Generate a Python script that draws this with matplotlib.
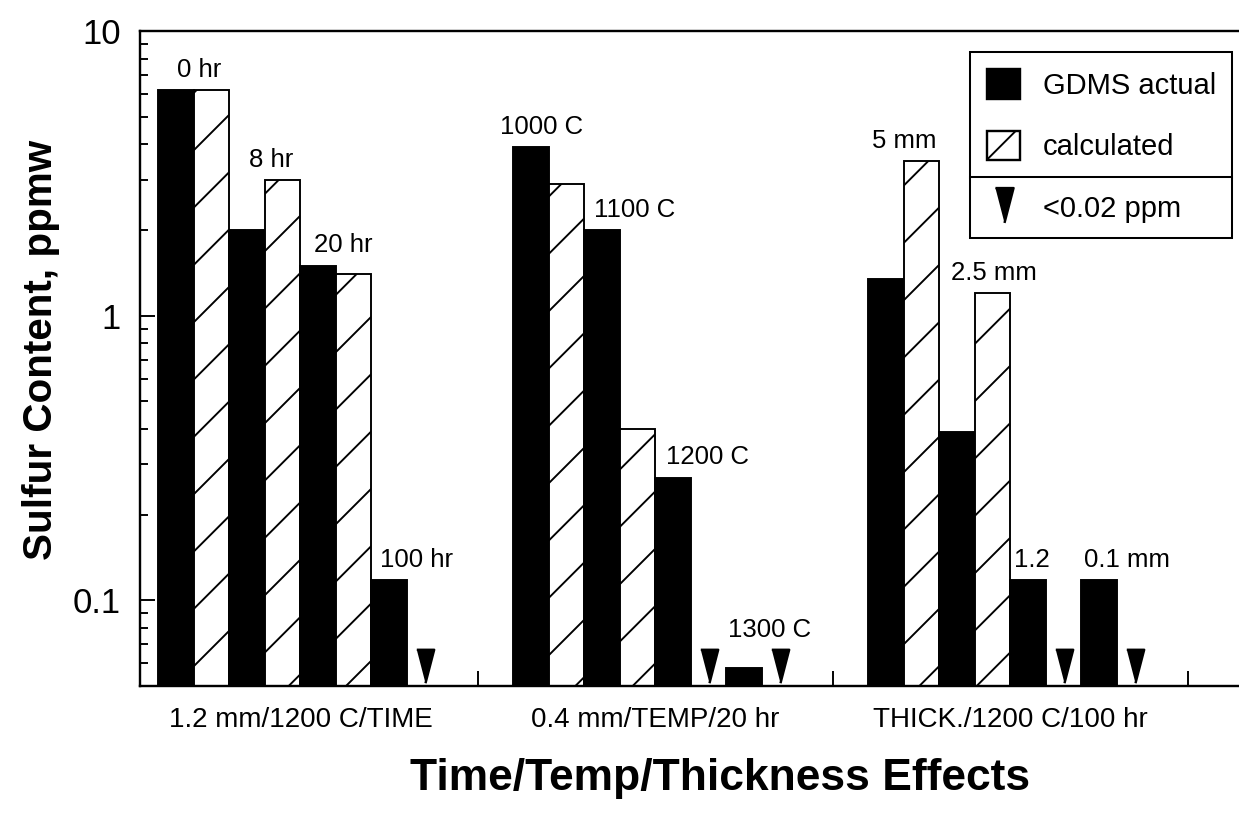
import numpy as np
import matplotlib
matplotlib.use("Agg")
import matplotlib.pyplot as plt
from matplotlib.patches import Patch
from matplotlib.lines import Line2D
from matplotlib.ticker import FixedLocator, FuncFormatter, LogLocator, NullFormatter

plt.rcParams['font.family'] = ['Liberation Sans', 'DejaVu Sans']
plt.rcParams['hatch.linewidth'] = 0.8

# sulfur content (ppmw), measured by GDMS vs. calculated
groups = ["1.2 mm/1200 C/TIME", "0.4 mm/TEMP/20 hr", "THICK./1200 C/100 hr"]
conditions = [["0 hr", "8 hr", "20 hr", "100 hr"],
              ["1000 C", "1100 C", "1200 C", "1300 C"],
              ["5 mm", "2.5 mm", "1.2", "0.1 mm"]]
gdms_actual = [[6.2, 2.0, 1.5, 0.118],
               [3.9, 2.0, 0.27, 0.058],
               [1.35, 0.39, 0.118, 0.118]]
# None -> below detection, shown as a triangle (<0.02 ppm)
calculated = [[6.2, 3.0, 1.4, None],
              [2.9, 0.40, None, None],
              [3.5, 1.2, None, None]]

DPI = 172
fig = plt.figure(figsize=(1239 / DPI, 827 / DPI), dpi=DPI)
ax = fig.add_axes([0.113, 0.1705, 0.887, 0.792])

ymin, ymax = 0.05, 10
base = 0.02
w = 0.1
tri = [(-0.26, 0.5), (0.26, 0.5), (0.0, -0.5)]
tri_y = 0.0588
tri_top = 0.067
tri_size = 14
label_dx = [[2, 2.5, 3, 4], [-3, 6, 7, 3], [0, 8, -6, 4]]

ax.set_yscale('log')

for g in range(len(groups)):
    for k in range(4):
        x_act = g + 0.15 + 2 * k * w
        x_calc = x_act + w
        act = gdms_actual[g][k]
        calc = calculated[g][k]
        ax.bar(x_act, act - base, bottom=base, width=w,
               facecolor='black', edgecolor='black', linewidth=0.8)
        if calc is None:
            ax.plot([x_calc], [tri_y], linestyle='none', marker=tri,
                    markersize=tri_size, color='black')
            top = max(act, tri_top)
        else:
            ax.bar(x_calc, calc - base, bottom=base, width=w,
                   facecolor='white', edgecolor='black', linewidth=0.8,
                   hatch='/')
            top = max(act, calc)
        ax.annotate(conditions[g][k], xy=(x_act + w / 2, top),
                    xytext=(label_dx[g][k], 5.5), textcoords='offset points',
                    ha='center', va='baseline', fontsize=10.8)

ax.set_ylim(ymin, ymax)
ax.set_xlim(0.048, 0.048 + 0.887 * 1239 / 355)

ax.yaxis.set_major_locator(FixedLocator([0.1, 1, 10]))
ax.yaxis.set_major_formatter(FuncFormatter(lambda v, p: f"{v:g}"))
ax.yaxis.set_minor_locator(LogLocator(base=10, subs=np.arange(2, 10)))
ax.yaxis.set_minor_formatter(NullFormatter())
ax.tick_params(axis='y', which='major', direction='in', length=6.3,
               width=0.8, labelsize=14.5, pad=8)
ax.tick_params(axis='y', which='minor', direction='in', length=3.3, width=0.8)

ax.set_xticks([1, 2, 3])
ax.set_xticklabels([])
ax.set_xticks([g + 0.5 for g in range(len(groups))], minor=True)
ax.set_xticklabels(groups, minor=True)
ax.tick_params(axis='x', which='major', direction='in', length=6.3, width=0.8)
ax.tick_params(axis='x', which='minor', length=0, pad=9, labelsize=11.6)

for side in ['left', 'bottom', 'top']:
    ax.spines[side].set_linewidth(1.0)
ax.spines['right'].set_visible(False)

fig.text(0.033, 0.577, "Sulfur Content, ppmw", rotation=90, ha='center',
         va='center', fontsize=16.9, fontweight='bold')
fig.text(0.581, 0.059, "Time/Temp/Thickness Effects", ha='center',
         va='center', fontsize=18.6, fontweight='bold')

# legend: bars on top, detection-limit marker in a box below
bar_handles = [Patch(facecolor='black', edgecolor='black'),
               Patch(facecolor='white', edgecolor='black', hatch='/')]
leg1 = ax.legend(bar_handles, ["GDMS actual", "calculated"],
                 loc='upper left', bbox_to_anchor=(0.7829, 0.9371, 0.2115, 0),
                 bbox_transform=fig.transFigure, mode='expand',
                 borderaxespad=0, borderpad=0.58, handlelength=1.13,
                 handleheight=1.2, handletextpad=0.79, labelspacing=1.06,
                 fontsize=12.2, fancybox=False, framealpha=1,
                 edgecolor='black')
leg1.get_frame().set_linewidth(0.85)
ax.add_artist(leg1)

tri_handle = Line2D([], [], linestyle='none', marker=tri,
                    markersize=tri_size + 0.6, color='black')
leg2 = ax.legend([tri_handle], ["<0.02 ppm"],
                 loc='upper left', bbox_to_anchor=(0.7829, 0.786, 0.2115, 0),
                 bbox_transform=fig.transFigure, mode='expand',
                 borderaxespad=0, borderpad=0.52, handlelength=1.3,
                 handleheight=1.2, handletextpad=0.68, numpoints=1,
                 fontsize=12.2, fancybox=False, framealpha=1,
                 edgecolor='black')
leg2.get_frame().set_linewidth(0.85)

fig.savefig("out.png", dpi=DPI)
